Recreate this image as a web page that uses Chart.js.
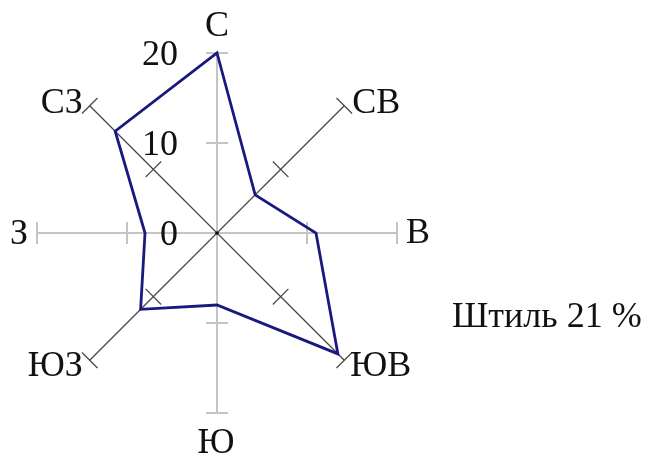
<!DOCTYPE html>
<html>
<head>
<meta charset="utf-8">
<script src="https://cdn.jsdelivr.net/npm/chart.js@4/dist/chart.umd.min.js"></script>
<style>
  html, body { margin: 0; padding: 0; background: #fff; }
  #wrap { width: 650px; height: 459px; position: relative; }
</style>
</head>
<body>
<div id="wrap"><canvas id="rose"></canvas></div>
<script>
// Роза ветров, повторяемость направлений (%)
const directions = ['С', 'СВ', 'В', 'ЮВ', 'Ю', 'ЮЗ', 'З', 'СЗ'];
const frequency = [20, 6, 11, 19, 8, 12, 8, 16];
const tickValues = [0, 10, 20];
const calmText = 'Штиль 21 %';

const FONT = '36px "Liberation Serif", "Times New Roman", serif';
const GRAY = '#c4c4c4';
const DARK = '#4a4a4a';

// смещения подписей направлений от конца оси
const labelOffsets = [
    { dx: 0, dy: -17, align: 'center' },
    { dx: 8, dy: 7, align: 'left' },
    { dx: 9, dy: 10, align: 'left' },
    { dx: 6, dy: 16, align: 'left' },
    { dx: -1, dy: 40, align: 'center' },
    { dx: -7, dy: 16, align: 'right' },
    { dx: -9, dy: 11, align: 'right' },
    { dx: -7, dy: 7, align: 'right' }
];

const roseDecor = {
    id: 'roseDecor',
    beforeDatasetsDraw(chart) {
        const scale = chart.scales.r;
        const ctx = chart.ctx;
        ctx.save();
        directions.forEach((d, i) => {
            const diag = i % 2 === 1;
            ctx.strokeStyle = diag ? DARK : GRAY;
            ctx.lineWidth = diag ? 1.3 : 2;
            const angle = scale.getIndexAngle(i) - Math.PI / 2;
            const nx = -Math.sin(angle), ny = Math.cos(angle);
            [10, 20].forEach(v => {
                const p = scale.getPointPositionForValue(i, v);
                ctx.beginPath();
                ctx.moveTo(p.x - nx * 11, p.y - ny * 11);
                ctx.lineTo(p.x + nx * 11, p.y + ny * 11);
                ctx.stroke();
            });
        });
        // точка в центре
        ctx.fillStyle = '#000';
        ctx.beginPath();
        ctx.arc(scale.xCenter, scale.yCenter, 1.8, 0, Math.PI * 2);
        ctx.fill();
        ctx.restore();
    },
    afterDraw(chart) {
        const scale = chart.scales.r;
        const ctx = chart.ctx;
        ctx.save();
        ctx.font = FONT;
        ctx.fillStyle = '#111';
        ctx.textBaseline = 'alphabetic';
        directions.forEach((d, i) => {
            const p = scale.getPointPositionForValue(i, 20);
            const o = labelOffsets[i];
            ctx.textAlign = o.align;
            ctx.fillText(d, p.x + o.dx, p.y + o.dy);
        });
        ctx.textAlign = 'right';
        tickValues.forEach(v => {
            const p = scale.getPointPositionForValue(0, v);
            ctx.fillText(String(v), p.x - 39, p.y + 12);
        });
        ctx.textAlign = 'left';
        ctx.fillText(calmText, 452, 327);
        ctx.restore();
    }
};

new Chart(document.getElementById('rose'), {
    type: 'radar',
    data: {
        labels: directions,
        datasets: [{
            data: frequency,
            borderColor: '#18187f',
            borderWidth: 2.8,
            fill: false,
            tension: 0,
            pointRadius: 0,
            pointHoverRadius: 0
        }]
    },
    options: {
        responsive: true,
        maintainAspectRatio: false,
        animation: false,
        layout: { padding: { left: 37, right: 253, top: 53, bottom: 46 } },
        scales: {
            r: {
                min: 0,
                max: 20,
                ticks: { display: false, stepSize: 10 },
                grid: { display: false },
                pointLabels: { display: false },
                angleLines: {
                    display: true,
                    color: ctx => (ctx.index % 2 === 1 ? DARK : GRAY),
                    lineWidth: ctx => (ctx.index % 2 === 1 ? 1.3 : 2)
                }
            }
        },
        plugins: {
            legend: { display: false },
            tooltip: { enabled: false }
        }
    },
    plugins: [roseDecor]
});
</script>
</body>
</html>
